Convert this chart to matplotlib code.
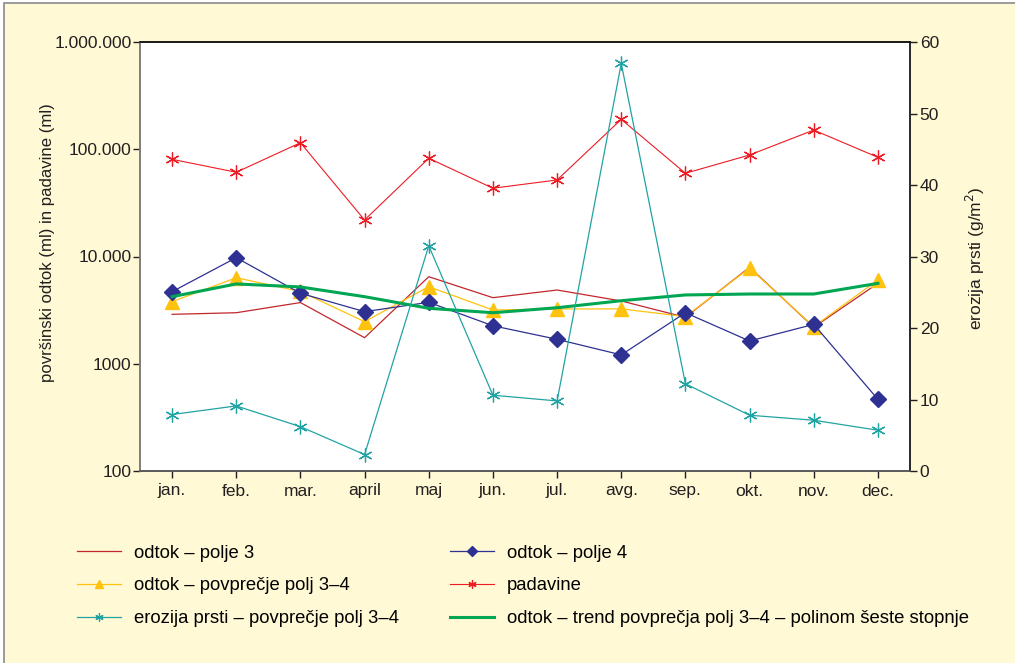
import matplotlib
matplotlib.use("Agg")
from matplotlib import pyplot as plt
from matplotlib.patches import Rectangle
from matplotlib.ticker import FixedLocator, NullLocator

plt.rcParams['font.family'] = ['Liberation Sans', 'DejaVu Sans']
plt.rcParams['font.size'] = 12

months = ["jan.", "feb.", "mar.", "april", "maj", "jun.", "jul.", "avg.", "sep.", "okt.", "nov.", "dec."]

# ml (left, log axis)
odtok_polje3 = [2890, 2990, 3720, 1750, 6480, 4130, 4870, 3850, 2710, 7930, 2190, 5620]
odtok_polje4 = [4700, 9750, 4540, 3060, 3740, 2260, 1690, 1210, 2990, 1630, 2330, 466]
odtok_povp = [3790, 6340, 4720, 2470, 5230, 3170, 3240, 3250, 2750, 7800, 2220, 6040]
padavine = [80600, 61000, 115000, 21900, 82400, 43300, 51700, 190000, 59700, 88400, 151000, 84100]
odtok_trend = [4220, 5550, 5200, 4220, 3290, 2990, 3330, 3870, 4380, 4470, 4470, 5620]

# g/m2 (right axis)
erozija = [7.9, 9.1, 6.2, 2.3, 31.5, 10.6, 9.8, 57.0, 12.2, 7.8, 7.1, 5.7]

bg = "#fff9d5"
c_p3 = "#c1272d"
c_p4 = "#2e3192"
c_avg = "#ffc20e"
c_pad = "#ed1c24"
c_ero = "#22a3a3"
c_trend = "#00a651"

fig = plt.figure(figsize=(10.15, 6.63), dpi=100, facecolor="white")
fig.patches.append(Rectangle((4 / 1015, -0.01), 1.0, 1 - 3 / 663 + 0.01, transform=fig.transFigure,
                             facecolor=bg, edgecolor="#8a8a8a", linewidth=1.2, zorder=-10))

ax = fig.add_axes([140 / 1015, 1 - 471 / 663, 770 / 1015, 429 / 663])
ax.set_facecolor("white")
ax2 = ax.twinx()

x = list(range(len(months)))
star = (6, 2, 0)

l1, = ax.plot(x, odtok_polje3, color=c_p3, lw=0.9, label="odtok – polje 3")
l3, = ax.plot(x, odtok_povp, color=c_avg, lw=0.9, marker="^", ms=10, label="odtok – povprečje polj 3–4")
l2, = ax.plot(x, odtok_polje4, color=c_p4, lw=0.9, marker="D", ms=8, label="odtok – polje 4")
l4, = ax.plot(x, padavine, color=c_pad, lw=0.8, marker=star, ms=10, mew=0.9, label="padavine")
l6, = ax.plot(x, odtok_trend, color=c_trend, lw=2.2, label="odtok – trend povprečja polj 3–4 – polinom šeste stopnje")
l5, = ax2.plot(x, erozija, color=c_ero, lw=0.9, marker=star, ms=10, mew=0.9, label="erozija prsti – povprečje polj 3–4")

ax.set_yscale("log")
ax.set_ylim(100, 1000000)
ax.set_xlim(-0.5, 11.5)
ax.yaxis.set_major_locator(FixedLocator([100, 1000, 10000, 100000, 1000000]))
ax.yaxis.set_minor_locator(NullLocator())
ax.set_yticklabels(["100", "1000", "10.000", "100.000", "1.000.000"])
ax.set_xticks(x)
ax.set_xticklabels(months)

ax2.set_ylim(0, 60)
ax2.set_yticks([0, 10, 20, 30, 40, 50, 60])

for a in (ax, ax2):
    a.tick_params(direction="out", length=5, width=1, colors="#231f20", labelsize=12.5, pad=2)
    for s in a.spines.values():
        s.set_linewidth(1.1)
    a.spines["left"].set_color("#7a7a7a")
    a.spines["bottom"].set_color("#555555")
    a.spines["top"].set_color("#111111")
    a.spines["right"].set_color("#222222")
ax.tick_params(axis="y", pad=1)
ax.tick_params(axis="x", pad=4)

fig.text(48 / 1015, 1 - 243 / 663, "površinski odtok (ml) in padavine (ml)", rotation=90,
         ha="center", va="center", fontsize=12.1, color="#231f20")
fig.text(975 / 1015, 1 - 258 / 663, "erozija prsti (g/m$^2$)", rotation=90,
         ha="center", va="center", fontsize=12.5, color="#231f20")

fig.legend([l1, l3, l5, l2, l4, l6], [h.get_label() for h in [l1, l3, l5, l2, l4, l6]],
           ncol=2, loc="upper left", bbox_to_anchor=(62 / 1015, 1 - 530 / 663), frameon=False,
           handlelength=2.4, handletextpad=0.7, labelspacing=0.85, columnspacing=2.75,
           fontsize=13.3, markerscale=0.6, borderpad=0.3)

fig.savefig("out.png", dpi=100, facecolor="white")
